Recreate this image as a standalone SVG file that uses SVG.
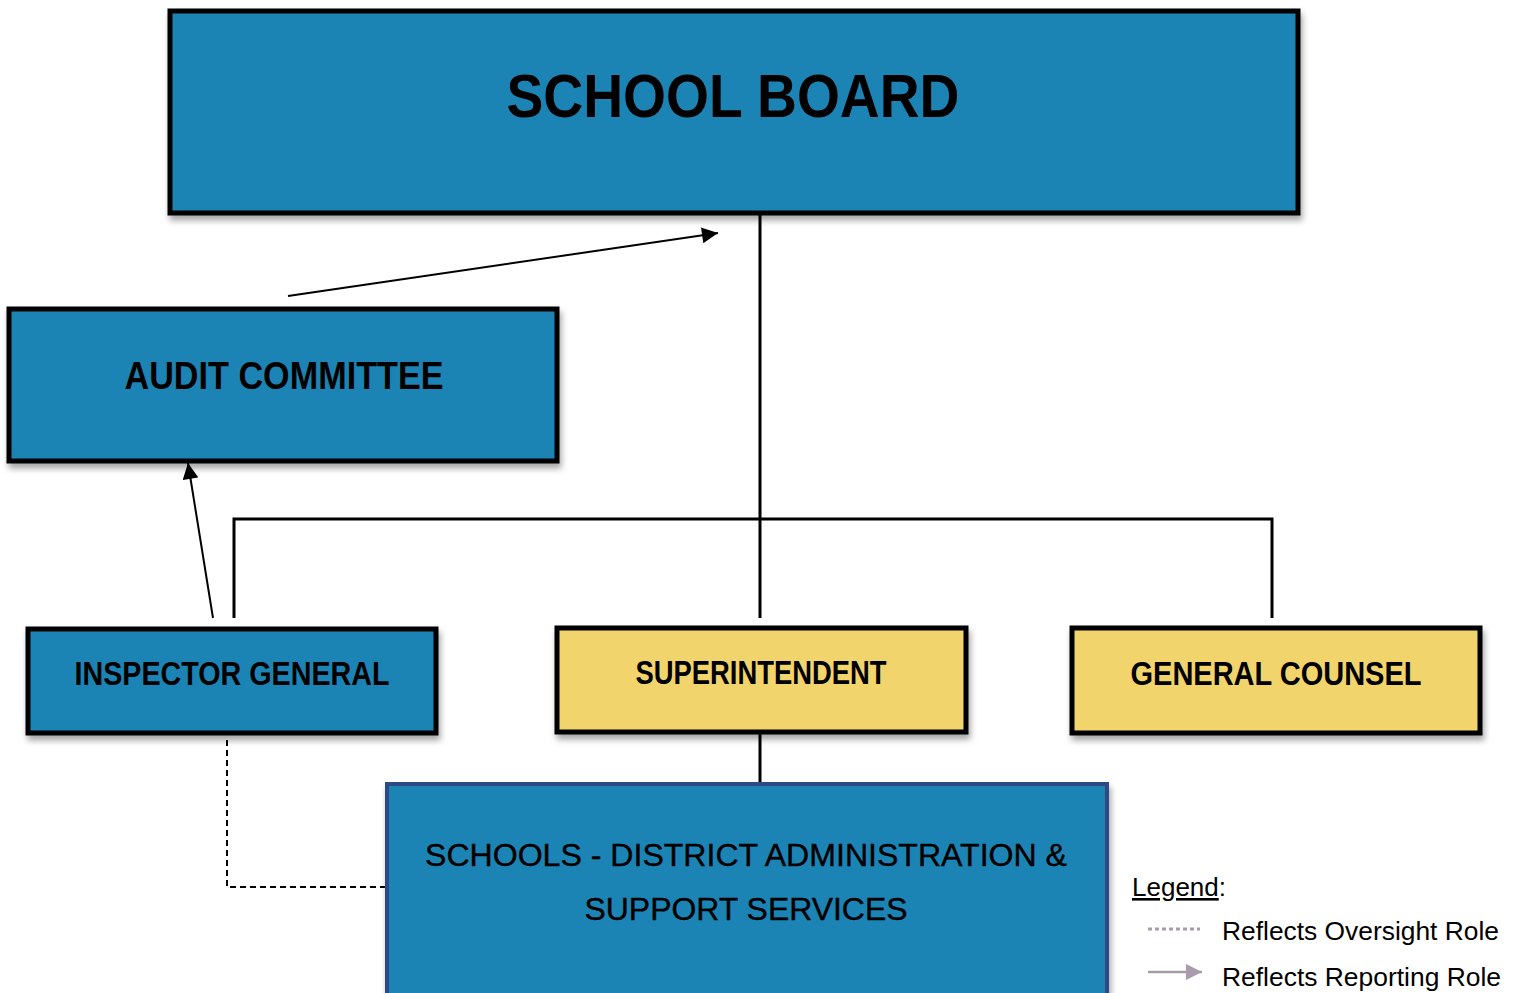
<svg xmlns="http://www.w3.org/2000/svg" width="1520" height="993" viewBox="0 0 1520 993">
<style>
.box{stroke:#000;stroke-width:5;}
.blue{fill:#1c84b4;}
.yellow{fill:#f2d46d;}
.t{font-family:"Liberation Sans",Arial,sans-serif;font-weight:bold;fill:#000;text-anchor:middle;}
.r{font-family:"Liberation Sans",Arial,sans-serif;fill:#000;}
.ln{stroke:#000;stroke-width:3;fill:none;}
.ar{stroke:#000;stroke-width:2;fill:none;}
</style>
<defs>
<filter id="sh" x="-5%" y="-10%" width="115%" height="130%">
<feDropShadow dx="2" dy="5" stdDeviation="3" flood-color="#000" flood-opacity="0.35"/>
</filter>
<marker id="ah" viewBox="0 0 10 10" refX="10" refY="5" markerWidth="17" markerHeight="16" markerUnits="userSpaceOnUse" orient="auto">
<path d="M0,0 L10,5 L0,10 z" fill="#000"/>
</marker>
<marker id="ahg" viewBox="0 0 10 10" refX="10" refY="5" markerWidth="16" markerHeight="16" markerUnits="userSpaceOnUse" orient="auto">
<path d="M0,0 L10,5 L0,10 z" fill="#a89cab"/>
</marker>
</defs>

<g id="connectors">
<line class="ln" x1="760" y1="213" x2="760" y2="618"/>
<polyline class="ln" points="234,618 234,519 1272,519 1272,618"/>
<line class="ln" x1="760" y1="732" x2="760" y2="785"/>
<line class="ar" x1="288" y1="296" x2="718" y2="233" marker-end="url(#ah)"/>
<line class="ar" x1="213" y1="618" x2="188" y2="463" marker-end="url(#ah)"/>
<polyline class="ar" points="227,740 227,887 387,887" stroke-dasharray="6,4"/>
</g>

<g id="school-board">
<rect class="box blue" x="170" y="11" width="1128" height="202" filter="url(#sh)"/>
<text class="t" x="733" y="117" font-size="61" textLength="453" lengthAdjust="spacingAndGlyphs">SCHOOL BOARD</text>
</g>

<g id="audit-committee">
<rect class="box blue" x="9" y="309" width="548" height="152" filter="url(#sh)"/>
<text class="t" x="284" y="389" font-size="39" textLength="319" lengthAdjust="spacingAndGlyphs">AUDIT COMMITTEE</text>
</g>

<g id="inspector-general">
<rect class="box blue" x="28" y="629" width="408" height="104" filter="url(#sh)"/>
<text class="t" x="232" y="685" font-size="33" textLength="315" lengthAdjust="spacingAndGlyphs">INSPECTOR GENERAL</text>
</g>

<g id="superintendent">
<rect class="box yellow" x="557" y="628" width="409" height="104" filter="url(#sh)"/>
<text class="t" x="761" y="684" font-size="33" textLength="251" lengthAdjust="spacingAndGlyphs">SUPERINTENDENT</text>
</g>

<g id="general-counsel">
<rect class="box yellow" x="1072" y="628" width="408" height="105" filter="url(#sh)"/>
<text class="t" x="1276" y="685" font-size="33" textLength="291" lengthAdjust="spacingAndGlyphs">GENERAL COUNSEL</text>
</g>

<g id="schools">
<rect x="387" y="784" width="720" height="240" fill="#1c84b4" stroke="#2f4a85" stroke-width="4" filter="url(#sh)"/>
<text class="r" x="746" y="866" font-size="32" text-anchor="middle" textLength="642" lengthAdjust="spacingAndGlyphs" stroke="#000" stroke-width="0.4">SCHOOLS - DISTRICT ADMINISTRATION &amp;</text>
<text class="r" x="746" y="920" font-size="32" text-anchor="middle" textLength="323" lengthAdjust="spacingAndGlyphs" stroke="#000" stroke-width="0.4">SUPPORT SERVICES</text>
</g>

<g id="legend">
<text class="r" x="1132" y="896" font-size="26"><tspan text-decoration="underline">Legend</tspan>:</text>
<line x1="1148" y1="929" x2="1200" y2="929" stroke="#a89cab" stroke-width="3" stroke-dasharray="4,3"/>
<text class="r" x="1222" y="940" font-size="26.5" textLength="277" lengthAdjust="spacingAndGlyphs">Reflects Oversight Role</text>
<line x1="1148" y1="972" x2="1202" y2="972" stroke="#a89cab" stroke-width="2.5" marker-end="url(#ahg)"/>
<text class="r" x="1222" y="986" font-size="26.5" textLength="279" lengthAdjust="spacingAndGlyphs">Reflects Reporting Role</text>
</g>
</svg>
